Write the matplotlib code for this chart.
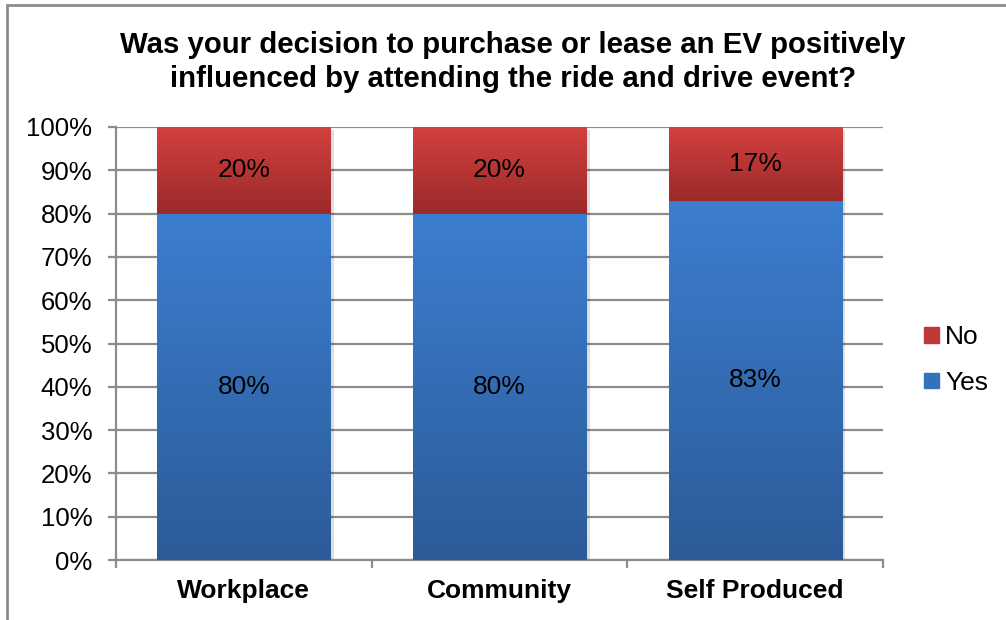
import matplotlib.pyplot as plt
import numpy as np
from matplotlib.colors import LinearSegmentedColormap
from matplotlib.patches import Rectangle, Patch

plt.rcParams['font.family'] = ['Liberation Sans', 'DejaVu Sans']

categories = ['Workplace', 'Community', 'Self Produced']
yes_pct = [80, 80, 83]
no_pct = [20, 20, 17]

title = ('Was your decision to purchase or lease an EV positively\n'
         'influenced by attending the ride and drive event?')

# gradient stops (bottom colour, top colour)
yes_cmap = LinearSegmentedColormap.from_list('yes', ['#2c5b98', '#3c7ed0'])
no_cmap = LinearSegmentedColormap.from_list('no', ['#9b2a2a', '#d3403f'])
grid_col = '#8c8c8c'

fig = plt.figure(figsize=(10.06, 6.2), dpi=100)
ax = fig.add_axes([116 / 1006, 1 - 560 / 620, 767 / 1006, 433 / 620])

x = np.arange(len(categories))
width = 0.677
bars_yes = ax.bar(x, yes_pct, width, color='none', zorder=3)
bars_no = ax.bar(x, no_pct, width, bottom=yes_pct, color='none', zorder=3)

grad = np.linspace(0, 1, 256).reshape(-1, 1)


def fill_gradient(bars, cmap):
    for b in bars:
        x0, y0 = b.get_x(), b.get_y()
        w, h = b.get_width(), b.get_height()
        # soft drop shadow on the right edge
        ax.add_patch(Rectangle((x0 + 0.014, y0 - 0.7), w, h, color='#000000',
                               alpha=0.13, lw=0, zorder=2))
        im = ax.imshow(grad, cmap=cmap, origin='lower', aspect='auto',
                       extent=(x0, x0 + w, y0, y0 + h), zorder=3)
        im.set_clip_path(b)


fill_gradient(bars_yes, yes_cmap)
fill_gradient(bars_no, no_cmap)

for i in range(len(categories)):
    ax.text(x[i], yes_pct[i] / 2, f'{yes_pct[i]}%', ha='center', va='center',
            fontsize=19, zorder=5)
    ax.text(x[i], yes_pct[i] + no_pct[i] / 2, f'{no_pct[i]}%', ha='center',
            va='center', fontsize=19, zorder=5)

ax.set_xlim(-0.5, len(categories) - 0.5)
ax.set_ylim(0, 100)
ax.set_yticks(np.arange(0, 101, 10))
ax.set_yticklabels([f'{v}%' for v in range(0, 101, 10)])
ax.yaxis.grid(True, color=grid_col, lw=1.6, zorder=0)
ax.set_axisbelow(True)
ax.tick_params(axis='y', length=6, width=1.6, color=grid_col, pad=11,
               labelsize=18.5)

# tick marks between categories, labels centred under the bars
ax.set_xticks(np.arange(-0.5, len(categories), 1.0))
ax.set_xticklabels([])
ax.set_xticks(x, minor=True)
ax.set_xticklabels(categories, minor=True, fontsize=19, fontweight='bold')
ax.tick_params(axis='x', which='major', length=6, width=1.6, color=grid_col)
ax.tick_params(axis='x', which='minor', length=0, pad=14)

for side in ['top', 'right']:
    ax.spines[side].set_visible(False)
for side in ['left', 'bottom']:
    ax.spines[side].set_color(grid_col)
    ax.spines[side].set_linewidth(1.6)

fig.text(0.510, 1 - 62 / 620, title, ha='center', va='center', fontsize=21.2,
         fontweight='bold', linespacing=1.25)

handles = [Patch(color='#c03838', label='No'), Patch(color='#3570bd', label='Yes')]
fig.legend(handles=handles, loc='center left', bbox_to_anchor=(924 / 1006, 1 - 360 / 620),
           frameon=False, fontsize=19, handlelength=0.55, handleheight=0.55,
           handletextpad=0.25, labelspacing=0.82, borderpad=0, borderaxespad=0)

# chart area border
fig.patches.append(Rectangle((7 / 1006, -0.1), 1.2, 1 - 5 / 620 + 0.1,
                             transform=fig.transFigure, fill=False,
                             edgecolor='#8c8c8c', lw=2))

fig.savefig('out.png', dpi=100)
